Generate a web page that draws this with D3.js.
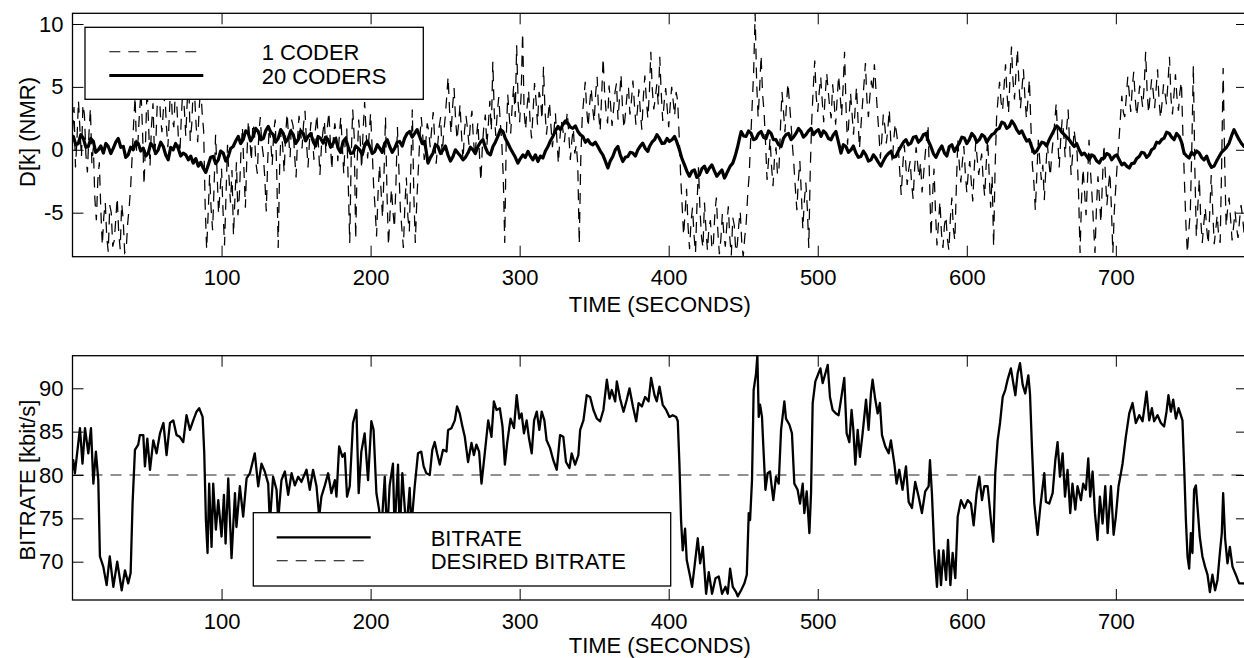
<!DOCTYPE html>
<html>
<head>
<meta charset="utf-8">
<script src="https://cdn.jsdelivr.net/npm/d3@7"></script>
<style>
  body { margin: 0; background: #fff; }
  svg { display: block; font-family: "Liberation Sans", Arial, Helvetica, sans-serif; }
</style>
</head>
<body>
<svg id="chart"></svg>
<script>
// ---- data ----
const timeTicks = [100, 200, 300, 400, 500, 600, 700]
const dTicks = [-5, 0, 5, 10]
const rateTicks = [70, 75, 80, 85, 90]
const timeRange = [0, 788]
const dRange = [-8.5, 10.85]
const rateRange = [65.58, 93.76]
const desiredBitrate = 80

// D[k] for a single coder, one value per second starting at t = 0 (20 values a row)
const coder1Step = 1
const coder1 = [
  1.5, 3.4, -1.4, 0.8, 3.9, 1.6, -0.6, 3.6, 2.8, -0.4, -1.8, 1.2, 3.3, -1.1, 0.2, -3.9, -5.6, -2.4, -1.0, -4.8,
  -7.6, -5.3, -4.2, -7.0, -8.1, -4.4, -5.0, -7.7, -7.2, -5.6, -3.8, -6.6, -7.9, -4.3, -5.5, -8.2, -8.0, -5.9, -4.6, -3.0,
  -0.6, 2.1, 4.2, -0.2, 0.8, 3.1, 4.6, 1.5, -2.8, 0.6, 4.9, 2.2, -1.3, 1.9, 3.7, -0.4, 0.9, 4.1, 5.3, 2.7,
  1.4, 3.2, 4.4, 1.9, 0.2, 2.8, 5.6, 2.4, 1.8, 4.7, 3.6, 1.0, -0.5, 2.6, 4.8, 3.3, 1.1, 3.9, 5.4, 0.7,
  2.0, 4.9, 4.2, 1.8, 0.6, 3.3, 5.0, 2.9, 1.5, -4.4, -7.9, -5.1, -2.0, -4.7, -6.4, -2.9, 1.2, -1.8, -5.1, -3.3,
  -1.5, -4.9, -7.6, -3.6, 0.4, -2.2, -4.2, -1.6, -6.8, -3.8, -1.0, -5.2, -3.5, -0.2, 1.8, -1.5, -4.6, -0.5, 2.3, 0.8,
  -0.9, 2.1, 1.5, -1.0, -1.9, 1.2, 2.6, 0.5, -0.4, -2.2, -4.9, -0.8, 1.9, 0.7, -1.2, 1.4, 2.4, -1.6, -7.8, -1.3,
  1.6, 0.3, -1.8, 1.2, 2.9, 1.0, -0.6, 2.4, 1.9, -0.4, -2.2, 0.9, 2.7, 1.5, 0.1, 2.0, 3.1, 0.6, -1.4, 0.7,
  2.2, 1.0, -0.8, 1.6, 2.8, 0.4, -2.0, 0.2, 1.4, 2.3, -0.3, 1.8, 3.0, 0.6, -1.6, 0.9, 2.1, 1.2, -0.9, 1.1,
  2.6, 0.4, -1.9, 0.8, 1.7, -2.6, -7.4, -0.5, 3.2, 1.1, -7.1, -1.0, 2.4, 0.9, -1.5, 1.6, 3.8, 1.4, -0.7, 1.2,
  2.9, 0.2, -2.8, -4.6, -6.9, -3.5, -1.2, -3.2, -5.4, -1.9, 2.6, -3.4, -7.6, -5.1, -3.1, -4.9, -6.2, -2.7, 1.8, -1.6,
  -4.8, -6.3, -7.8, -4.4, -2.2, -5.3, -6.5, -1.4, 3.2, -3.6, -7.4, -4.1, -1.6, 0.9, 2.6, 1.1, -0.8, 0.6, 2.1, 1.5,
  0.2, 1.7, 3.0, 0.9, -1.1, 0.4, 1.8, 2.6, -0.4, 1.3, 2.5, 4.1, 5.8, 3.1, 1.3, 3.4, 4.9, 2.5, 0.8, 2.0,
  3.6, 1.2, -0.9, 1.5, 2.7, 1.7, 0.4, 2.2, 3.1, 0.8, -0.6, 1.0, 2.2, -0.3, -2.5, 0.3, 1.9, 2.8, 0.3, 2.0,
  3.9, 1.5, 7.0, 2.8, 1.1, 3.0, 4.2, 2.2, 0.6, -2.1, -7.4, 0.9, 4.4, 2.7, 1.3, 3.5, 5.1, 2.6, 8.3, 3.7,
  2.2, 4.4, 9.3, 3.1, 1.6, 3.4, 4.7, 2.3, 0.9, 3.0, 5.3, 3.9, 2.0, 4.6, 4.1, 2.4, 6.6, 3.2, 1.2, 2.5,
  3.8, 1.9, 0.2, 1.5, 2.9, 0.8, -1.1, 0.9, 2.3, 1.6, 0.6, 1.9, 3.0, 1.2, -0.8, 0.7, 1.7, -0.3, 0.4, -1.2,
  -7.5, -0.8, 2.6, 4.0, 5.4, 3.2, 1.8, 3.7, 4.9, 3.3, 2.2, 4.5, 5.8, 2.9, 1.5, 4.2, 7.3, 4.6, 3.0, 2.1,
  5.1, 3.6, 1.9, 3.2, 4.6, 5.3, 2.4, 4.1, 6.0, 3.4, 1.7, 2.9, 4.3, 5.0, 2.8, 3.9, 5.5, 3.6, 2.0, 3.1,
  4.8, 3.0, 1.6, 4.2, 5.9, 4.0, 2.5, 4.4, 7.8, 4.8, 3.2, 4.1, 5.2, 3.6, 7.4, 4.5, 2.3, 3.8, 4.9, 3.3,
  1.8, 3.5, 5.0, 3.9, 2.7, 4.6, 3.9, 1.2, -2.0, -4.4, -6.8, -5.0, -3.1, -6.1, -7.9, -5.7, -4.6, -6.8, -8.2, -4.3,
  -1.4, -4.8, -6.9, -7.8, -4.2, -6.3, -8.0, -6.2, -5.6, -7.9, -7.4, -5.0, -3.8, -6.5, -8.3, -7.1, -5.1, -6.7, -7.7, -6.0,
  -4.5, -7.0, -8.4, -5.4, -6.0, -8.1, -7.6, -6.0, -4.9, -7.3, -8.5, -7.0, -5.8, -3.6, -2.0, 0.8, 3.5, 6.2, 10.85, 5.4,
  2.6, 4.8, 7.5, 4.4, 3.0, 0.5, -2.4, -0.8, 0.9, -1.3, -2.9, -0.6, 0.2, -2.0, -1.5, 1.8, 4.6, 3.1, 1.4, 3.6,
  5.3, 3.8, 2.2, 0.4, -1.2, -3.1, -4.8, -2.4, -0.9, -3.5, -6.3, -4.1, -2.6, -4.6, -7.8, -1.5, 2.4, 4.9, 7.1, 4.2,
  3.0, 4.6, 5.8, 3.9, 2.2, 4.3, 6.1, 4.7, 3.4, 2.5, 5.2, 3.8, 2.0, 4.0, 5.9, 4.4, 2.7, 4.9, 7.8, 3.3,
  0.4, 2.6, 4.5, 2.9, 1.2, 3.1, 5.0, 2.4, 0.1, 1.9, 3.6, 5.2, 6.9, 4.0, 2.6, 4.3, 5.5, 4.6, 6.8, 4.9,
  3.1, 1.4, -0.7, 0.9, 2.8, 1.9, 0.5, 1.6, 3.2, 0.7, -1.0, 0.8, 2.1, 1.2, 0.3, -1.7, -3.6, -1.4, 0.4, -1.0,
  -2.8, -1.6, -0.9, -2.7, -3.9, -1.5, 0.2, -1.1, -2.2, -1.0, -3.4, -2.0, -0.5, 0.9, 2.0, -2.3, -6.9, -3.8, -1.5, -4.9,
  -7.6, -5.8, -4.1, -6.6, -7.8, -6.0, -5.3, -7.1, -8.0, -5.4, -3.8, -6.3, -7.2, -2.9, 0.8, -1.2, -2.6, -1.0, 0.3, -1.8,
  -3.4, -1.8, -0.9, -2.5, -4.1, -1.5, 0.6, -0.7, -2.0, -1.1, -0.3, -2.4, -3.7, -1.2, 0.9, -1.9, -4.6, -2.1, -7.7, -1.4,
  2.6, 4.1, 5.4, 3.8, 3.1, 5.0, 6.8, 4.4, 2.9, 5.7, 8.2, 5.5, 4.0, 6.1, 8.0, 5.2, 3.3, 4.8, 6.4, 4.2,
  2.5, 3.9, 5.6, 2.0, -1.2, -2.6, -4.8, -1.9, 0.8, -0.9, -2.4, -1.2, -4.0, -1.6, 0.5, -0.8, -2.1, -0.4, 0.9, 2.2,
  3.7, 1.0, -1.4, 0.8, 2.4, 1.3, -0.6, 1.7, 3.2, 0.4, -2.0, -0.4, 1.6, 0.6, -0.2, -3.5, -8.2, -3.9, -1.5, -3.3,
  -5.2, -2.4, 0.8, -1.7, -3.6, -5.9, -8.2, -4.6, -2.1, -3.9, -5.8, -2.5, 0.4, -2.0, -4.4, -3.0, -1.8, -4.5, -8.2, -4.8,
  -2.9, -1.0, 0.6, 2.4, 4.3, 3.0, 2.6, 4.2, 5.8, 4.5, 3.0, 4.9, 6.2, 4.1, 2.7, 3.8, 5.1, 4.4, 3.4, 5.0,
  7.8, 4.6, 2.9, 4.3, 5.6, 4.7, 3.3, 4.8, 6.4, 3.9, 2.5, 3.7, 5.2, 4.5, 3.6, 5.4, 7.4, 4.1, 2.8, 4.4,
  6.0, 4.2, 3.1, 4.6, 5.4, 1.2, -2.4, -5.9, -8.2, -6.4, -4.8, 0.3, 6.7, -1.4, -6.9, -4.5, -2.3, -5.6, -7.4, -5.9,
  -4.6, -6.3, -7.5, -5.0, -2.0, -4.8, -7.5, -6.4, -5.2, -6.9, -7.4, -1.2, 6.5, -0.8, -6.1, -4.7, -3.8, -5.5, -7.2, -6.1,
  -4.9, -6.2, -7.0, -5.6, -4.4, -5.3, -6.6, -5.8
]

// D[k] averaged over 20 coders: [time, value]
const coders20 = [
  [0,0.9],[0.6,1.06],[2.2,0.4],[3.9,0.5],[5.6,1.2],[7.3,0.9],[9,0.2],[10.6,0.26],[12.3,0.9],[14,0.66],
  [15.6,-0.2],[17.3,0],[19,0.3],[20.7,-0.26],[22.4,0.5],[24,0.26],[25.7,-0.3],[27.4,0.13],[29,0.6],[30.7,0.9],
  [32.4,0.2],[34.1,0.26],[35.7,-0.6],[37.4,-0.4],[39,0.2],[40.8,0],[42.4,0.6],[44.1,0.5],[45.8,-0.1],[47.5,0.13],
  [49.2,-0.5],[50.8,-0.26],[52.5,0.5],[54.2,0.26],[55.8,-0.3],[57.5,0],[59.2,0.6],[60.9,0.26],[62.5,-0.4],[64.2,-0.8],
  [65.9,0.2],[67.6,0],[69.2,0.5],[70.9,0.13],[72.6,-0.5],[74.3,-0.26],[76,-0.4],[77.7,-0.8],[79.3,-0.5],[81,-1.06],
  [82.7,-0.7],[84.4,-1.3],[86,-1.0],[87.7,-1.45],[89.4,-1.8],[91.1,-1.2],[92.7,-0.6],[94.4,-0.53],[96.1,-1.1],[97.8,-0.8],
  [99.4,-0.1],[101.1,-0.26],[102.8,-0.9],[104.5,-0.53],[106.1,0.1],[107.8,0.26],[109.5,0.7],[111.2,1.06],[112.8,0.5],[114.5,0.8],
  [116.2,1.5],[117.9,1.3],[119.5,0.7],[121.2,1.06],[122.9,1.7],[124.6,1.45],[126.3,0.8],[128,0.9],[129.6,1.5],[131.3,1.85],
  [133,1.4],[134.7,1.2],[136.3,0.6],[138,0.9],[139.7,1.6],[141.4,1.3],[143,0.6],[144.7,0.9],[146.4,1.5],[148.1,1.2],
  [149.7,0.5],[151.4,0.8],[153.1,1.5],[154.8,1.3],[156.4,0.7],[158.1,1.06],[159.8,1.3],[161.5,0.66],[163.1,0.3],[164.8,1.06],
  [166.5,0.9],[168.2,0.53],[169.8,1.0],[171.5,0.8],[173.2,0.2],[174.9,0.53],[176.5,0.9],[178.2,0.13],[179.9,-0.2],[181.6,0.66],
  [183.2,0.9],[184.9,0.26],[186.6,-0.3],[188.3,-0.26],[190,0.3],[191.6,0.13],[192.7,0],[194.4,-0.4],[196.1,0.4],[197.8,0.7],
  [199.4,0.26],[201.1,-0.3],[202.8,-0.13],[204.5,0.4],[206.1,0.13],[207.8,-0.2],[209.5,0.53],[211.2,0.8],[212.8,0.26],[214.5,-0.2],
  [216.2,0.13],[217.8,0.6],[219.5,0.66],[221.2,0.3],[222.9,0.93],[224.5,1.3],[226.2,1.45],[227.9,1.0],[229.6,1.3],[231.2,1.6],
  [232.9,1.06],[234.6,0.5],[236.3,0.66],[237.4,-0.2],[238.5,-1.06],[240.2,-0.6],[241.9,-0.26],[243.5,0.4],[245.2,0.26],[246.9,-0.3],
  [248.6,0],[250.2,0.3],[251.9,-0.4],[253.6,-0.9],[255.3,-0.53],[256.9,0],[258.6,-0.26],[260.3,-0.5],[262,-0.8],[263.6,-0.6],
  [265.3,-0.26],[267,0.2],[268.7,0],[270.3,-0.3],[272,0.26],[273.7,0.6],[275.4,0.8],[277,0.2],[278.7,-0.26],[280.4,-0.4],
  [282.1,0.26],[283.7,0.6],[285.4,1.06],[287.1,1.6],[288.8,1.45],[290.4,0.9],[292.1,0.53],[293.8,0.1],[295.5,-0.26],[297.1,-0.6],
  [298.8,-1.06],[300.5,-0.7],[302.2,-0.4],[303.8,-0.6],[305.6,-0.13],[307.2,-0.5],[308.9,-0.8],[310.6,-0.4],[312.3,-0.93],[313.9,-0.5],
  [315.6,-0.66],[317.3,-0.1],[319,0.26],[320.6,0.7],[322.3,1.06],[324,1.5],[325.7,1.85],[327.3,1.6],[329,2.0],[330.7,2.3],
  [332.4,2.1],[334,1.8],[335.7,1.7],[337.4,1.9],[339.1,1.45],[340.7,1.2],[342.4,1.06],[344.1,0.6],[345.8,0.8],[347.4,0.5],
  [349.1,0.4],[350.8,0.6],[352.5,0.26],[354.1,-0.1],[355.8,-0.4],[357.5,-0.9],[359.2,-1.45],[360.8,-0.9],[362.5,-0.53],[364.2,0],
  [365.9,0.26],[367.5,-0.4],[369.2,-0.93],[370.9,-0.6],[372.6,-0.53],[374.2,-0.2],[375.9,-0.26],[377.6,-0.5],[379.3,0],[381,0.3],
  [382.6,0.53],[384.3,0.1],[386,-0.13],[387.1,0.26],[388.8,0.6],[390.5,0.8],[392.1,1.2],[393.8,0.9],[395.5,0.5],[397.2,0.53],
  [398.9,0.9],[400.5,0.66],[402.2,0.8],[403.9,1.06],[405.5,0.6],[407.2,0],[408.9,-0.7],[410.6,-1.2],[412.2,-1.7],[413.9,-2.1],
  [415.6,-1.7],[417.3,-1.6],[418.9,-2.2],[420.6,-2.0],[422.3,-1.5],[424,-1.3],[425.6,-1.8],[427.3,-1.45],[429,-1.2],[430.7,-1.7],
  [432.3,-2.1],[434,-1.85],[435.7,-1.6],[437.4,-2.25],[438.5,-2.0],[439.6,-1.7],[441.3,-1.3],[443,-1.06],[444.6,-0.5],[446.3,0.26],
  [447.5,0.9],[448.6,1.45],[450.3,1.1],[451.9,1.06],[453.6,1.5],[455.3,1.3],[456.9,0.8],[458.6,0.9],[460.3,1.3],[462,1.45],
  [463.6,1.0],[465.3,0.9],[467,1.5],[468.7,1.3],[470.3,0.8],[472,0.8],[473.7,0.4],[475.4,0.26],[477,0.9],[478.7,1.2],
  [480.4,1.3],[482.1,0.8],[483.7,1.0],[485.4,1.3],[487.1,1.7],[488.8,1.45],[490.4,1.0],[492.1,1.2],[493.8,1.5],[495.5,1.7],
  [497.1,1.2],[498.8,1.45],[500.5,1.6],[502.2,1.06],[503.8,1.5],[505.5,1.3],[507.2,0.9],[508.9,0.8],[510.5,1.2],[512.2,1.45],
  [513.9,0.6],[515.6,-0.26],[517.2,0.4],[518.9,0.26],[520.6,-0.2],[522.3,0],[523.9,0.3],[525.6,-0.26],[527.3,-0.6],[529,-0.53],
  [530.6,-0.1],[532.3,-0.4],[534,-0.9],[535.7,-0.8],[537.3,-0.4],[539,-0.66],[540.7,-1.0],[542.4,-1.3],[544,-0.9],[545.7,-0.53],
  [547.4,-0.3],[549.1,-0.13],[550.7,-0.6],[552.4,-0.53],[554.1,-0.1],[555.8,0.26],[557.5,0.6],[559.2,0.8],[560.8,0.4],[562.5,0.53],
  [564.2,1.0],[565.9,1.06],[567.5,0.6],[569.2,0.8],[570.9,1.2],[572.6,1.3],[574.2,0.7],[575.9,0.26],[577.6,-0.3],[579.3,-0.6],
  [581.6,0],[583.3,0.3],[585,-0.26],[586.6,-0.5],[588.3,0.26],[590,0.4],[591.7,-0.13],[593.3,0.2],[595,0.53],[596.7,1.0],
  [598.4,0.93],[600,0.5],[601.7,0.8],[603.4,1.3],[605.1,1.06],[606.7,0.6],[608.4,0.8],[610.1,1.2],[611.8,1.06],[613.4,0.6],
  [615.1,0.93],[616.8,1.2],[618.5,1.3],[620.1,1.6],[621.8,1.7],[623.5,2.2],[625.2,2.1],[626.8,1.7],[628.5,1.85],[630.2,2.3],
  [631.9,2.0],[633.5,1.6],[635.2,1.3],[636.9,1.5],[638.6,1.06],[640.2,0.7],[641.9,0.8],[643.6,0.2],[645.3,-0.26],[646.9,-0.1],
  [648.6,0.26],[650.3,0.6],[652,0.53],[653.6,0.3],[655.3,0.8],[657,1.2],[658.7,1.6],[660.3,1.9],[662,1.7],[663.7,1.4],
  [665.4,1.2],[667,1.0],[668.7,0.8],[670.4,0.5],[672.1,0.26],[673.7,0.5],[675.4,0],[677.1,-0.4],[678.8,-0.26],[680.4,-0.5],
  [682.1,-0.8],[683.8,-0.4],[685.5,-0.53],[687.2,-0.9],[688.9,-1.06],[690.5,-0.7],[692.2,-0.66],[693.9,-0.3],[695.6,-0.4],[697.2,-0.8],
  [698.9,-0.53],[700.6,-0.4],[702.3,-0.8],[704,-1.2],[705.6,-1.06],[707.3,-1.3],[709,-1.45],[710.6,-1.1],[712.3,-1.06],[714,-0.7],
  [715.7,-0.53],[717.3,-0.2],[719,-0.26],[720.7,-0.6],[722.4,-0.4],[724,0],[725.7,0.13],[727.4,0.6],[729.1,0.53],[730.7,0.8],
  [732.4,0.93],[734.1,1.4],[735.8,1.3],[737.4,1.0],[739.1,0.8],[740.8,1.3],[742.5,1.06],[744.1,0.6],[745.8,-0.26],[747.5,-0.5],
  [749.2,-0.66],[750.8,-0.2],[752.5,-0.4],[754.2,-0.1],[755.9,-0.26],[757.5,-0.6],[759.2,-0.8],[760.9,-0.5],[762.6,-1.06],[764.2,-1.4],
  [765.9,-1.3],[767.6,-0.9],[769.3,-0.53],[770.9,-0.2],[772.6,0],[774.3,0.2],[776,0.53],[777.6,1.1],[779.3,1.6],[781,1.2],
  [782.7,0.8],[784.3,0.5],[786,0.26],[788,0.4]
]

// bitrate in kbit/s: [time, value]
const bitrate = [
  [0,80.6],[0.5,81.7],[1.6,80.2],[5,85.4],[6.7,81.3],[8.4,85.4],[10.6,82.5],[12.4,85.4],[14,79],[15.7,82.7],
  [17.3,79.4],[18.4,70.6],[20.7,69.4],[22.9,67.3],[25,70.6],[27.4,67.1],[30,70],[33,66.7],[35.2,69],[37.4,67.5],
  [39,68.7],[40.3,76.7],[41.9,82.9],[44.1,83.5],[45.2,84.6],[47.5,84.6],[48.6,81],[50.2,84.2],[52,80.6],[54.2,84],
  [56.4,82.5],[58.7,84.8],[61,86],[63.1,82.3],[65.4,86],[67.6,86.3],[69.8,84.6],[72,84.4],[74.3,83.8],[76.5,86.9],
  [78.8,85.2],[81,86.3],[83.2,87.3],[85,87.7],[87.3,86.7],[88.4,82.5],[89.5,74.8],[90.6,71],[91.7,79],[93.3,71.7],
  [94.4,79],[96.2,73.7],[97.8,77.1],[100,72.9],[101.6,77.7],[102.7,72.1],[104.5,79.6],[106.7,70.4],[109,77.9],[110,74],
  [112.3,78.7],[114.5,75.2],[116.8,79.6],[119,80.2],[122.3,82.5],[124.6,78.7],[126.8,81.3],[129,80.4],[131.3,79],[132.4,74.5],
  [134.6,79.8],[136.9,78.3],[138,74.8],[140.2,79.4],[142.5,80.4],[144.7,77.7],[147,80.2],[149.2,78.8],[151.4,79.8],[153.6,79.2],
  [157,80.6],[159.2,78.3],[161.4,80.6],[163.7,78.7],[165.5,75.2],[167,77.5],[169.3,78.8],[171.5,80.2],[173.7,77.9],[176,79.4],
  [177.1,77.5],[178.9,83.3],[181.1,82.1],[182.7,82.5],[184.2,77.5],[186,78.7],[188.2,86],[190.5,87.5],[192,77.9],[193.8,82.7],
  [196,84.8],[198.3,79.4],[200.5,86.2],[202,85.2],[203.9,77.9],[205.7,76],[207.2,73.5],[209.5,79.8],[211,73],[212.8,78.8],
  [215,81.3],[216.1,73.5],[218.4,81.2],[219.5,73],[221.3,80.2],[224,73.5],[226.2,78.5],[227.3,74],[229.6,78.7],[231.8,82.5],
  [234,82.7],[235.6,81],[237.4,80.2],[239.7,80],[241.4,82.9],[243,83.8],[244.6,82.5],[246.4,81.2],[248.6,82.9],[250.9,82.7],
  [252,85.2],[254.2,85.4],[256.5,86.3],[258,87.9],[259.8,87.1],[261.6,85.6],[263.2,84.4],[265.4,81.5],[267.7,83.7],[269.3,82.3],
  [271,83.5],[272.8,82.7],[274.4,79],[276.6,82.5],[278.9,86.3],[281.1,84.4],[282.7,88.5],[284.5,87.5],[286.7,87.7],[288.5,85.6],
  [290.1,81.2],[291.7,83.8],[293.9,86.5],[296.2,85.4],[298,89.2],[299.8,86.5],[301.3,87.1],[302.9,84.8],[304.7,86.3],[306.3,84.2],
  [308.1,82.5],[309.7,86.3],[311.5,87.3],[313.2,85.2],[314.8,87.3],[316.6,86.3],[318.1,84],[320.4,83.1],[322.6,81.7],[324.9,80.6],
  [327.1,84.6],[329.3,84.4],[331.1,81.5],[333.4,80.8],[334.9,82.5],[337.2,81.2],[339.4,82.3],[340.6,85.2],[342.8,86.3],[345,89.2],
  [347.3,89],[349.5,87.5],[351.8,86.5],[354,86.2],[356.2,87.5],[358.5,91],[360.3,88.8],[361.8,89.8],[364.1,88.5],[365.2,90.8],
  [367.4,88.8],[369.7,87.3],[371.9,88.7],[373.7,90],[376,87.9],[378.2,86.2],[379.8,88.3],[382,87.9],[384.2,89],[386.5,88.5],
  [388.2,91.2],[390.5,89.2],[392,88.5],[393.8,90.2],[396,88.1],[398.3,87.5],[400.5,86.7],[402.7,86.9],[405,86.7],[406.1,86.2],
  [407.2,81.3],[408.3,74.8],[409.4,71.3],[411,73.8],[412.1,70.2],[413.9,68.7],[415.7,67.1],[417.3,69.4],[419.5,72.7],[421.1,69.8],
  [422.9,71.7],[425.1,66.3],[426.9,68.8],[429.1,66.3],[431.4,68.1],[433.6,68.3],[435.8,66.3],[438.1,67.1],[439.6,66.3],[441.2,69.2],
  [443,67.1],[445.2,66.5],[446.3,66],[448.6,66.7],[450.8,67.5],[452.4,68.5],[453.7,75.6],[454.6,74.8],[455.9,79.4],[457,89.8],
  [458.6,91.7],[459.5,93.76],[460.4,86.7],[461.3,88.1],[462.6,86.7],[463.5,83.3],[464.9,78.3],[466.4,80.2],[468,80.4],[469.1,78.7],
  [470.2,77.1],[472,79.8],[473.8,79],[475.4,85.2],[477.6,88.5],[478.7,86.5],[481,85.8],[482.7,84.8],[484.3,79],[486.5,78.3],
  [488.1,76.7],[489.9,79],[491,75.6],[492.6,78.1],[494.4,73.3],[495.5,77.9],[496.6,88.3],[498.4,90.8],[500,91.5],[501.8,92.3],
  [503.3,90.6],[505.1,91.7],[506.7,92.7],[508.2,89],[510,87.5],[512.2,87.1],[514,86.9],[515.6,88.7],[517.8,91.2],[519.4,84.8],
  [521.2,83.8],[522.7,87.5],[523.9,85.2],[525.2,81.2],[526.8,85.2],[528.3,82.1],[530.1,84.8],[532.4,88.7],[534.1,85.2],[535.7,89.4],
  [536.8,91],[538.6,88.7],[540.2,87.1],[541.7,88.3],[543.1,84.6],[545.3,83.3],[547.6,82.5],[549.1,84],[551.4,81.3],[552.9,79],
  [554.7,80.6],[556.9,78.3],[559.2,81],[561,76.9],[563.2,76.2],[565.4,79.2],[567.7,77.5],[569.9,75.6],[572.1,78.1],[574.4,78.7],
  [575.3,81.7],[576.6,77.9],[578.2,71.3],[580,67.1],[581.2,71.3],[582.7,67.3],[584.3,71.3],[586.1,67.9],[587.4,72.5],[589,67.3],
  [590.5,71],[592.3,68.1],[593.9,75.2],[596.1,77.1],[598.4,76.2],[600.6,77.1],[602.8,76.7],[604.6,74.2],[606.6,77.9],[608.4,79.8],
  [610.2,77.1],[611.8,78.7],[614,78.7],[616.2,74.8],[617.8,72.3],[619.1,80.2],[620.7,84],[622.3,86],[624.1,89],[625.8,89.8],
  [627.4,91],[629.6,92.3],[631.2,90.6],[632.6,89.2],[634.1,91.7],[635.7,92.9],[637.5,90.4],[639.2,89.4],[641.3,91.5],[642.4,89.4],
  [643.7,83.3],[645.3,76.7],[647.5,73.1],[649.3,76.3],[652,80.2],[653.1,76.9],[655.3,76.7],[657.6,77.9],[659.4,81.7],[660.9,83.8],
  [662.5,79.8],[664.3,82.5],[665.9,77.5],[667.6,80.6],[669.4,75.6],[670.9,79],[672.8,76],[674.3,78.7],[676.6,77.1],[678.1,79],
  [679.9,78.3],[681.5,81.9],[682.8,77.5],[684.4,80.4],[686,75.6],[687.7,72.5],[689.3,77.5],[691.1,74.4],[692.9,78.7],[694.5,73.3],
  [696.7,78.7],[698.5,73.1],[700,75.2],[701.8,78.7],[703.4,80.2],[704.5,81.3],[706.7,84.4],[709,87.1],[711.2,88.3],[713.4,86],
  [715.7,86.9],[717.9,86.2],[719,87.5],[720.6,89.6],[722.4,86.3],[724.2,87.7],[725.7,86.2],[728,86.9],[730.2,86],[732.4,85.6],
  [734,87.3],[735.3,89.2],[736.9,87.3],[738.5,88.7],[740.3,86.5],[742.1,87.7],[743.6,86.9],[744.7,86.3],[745.9,80.6],[747,74.8],
  [748.1,70.6],[749.2,69.2],[750.3,73.3],[751.4,71],[752.5,78.3],[753.7,78.8],[754.8,76.3],[756.3,72.9],[758.1,70.6],[759.9,69.4],
  [761.5,68.5],[763.1,66.5],[764.8,68.5],[766.6,66.7],[768.2,67.9],[769.8,71],[771.1,73.3],[772,77.9],[773.3,72.7],[774.9,69.8],
  [776.5,71.7],[778.3,69.4],[780.5,68.5],[782.7,67.5],[785.4,67.5],[788,67.4]
]

// ---- layout ----
const WIDTH = 1244
const HEIGHT = 658
const LEFT = 72.5
const RIGHT = 1247      // right frame sits just outside the picture, as in the reference
const TICK = 11
const FONT = 22
const DASH = '11,8'

const svg = d3.select('#chart')
    .attr('width', WIDTH)
    .attr('height', HEIGHT)
    .attr('viewBox', `0 0 ${WIDTH} ${HEIGHT}`)

function makePanel(id, top, bottom, yDomain) {
    const x = d3.scaleLinear().domain(timeRange).range([LEFT, RIGHT])
    const y = d3.scaleLinear().domain(yDomain).range([bottom, top])
    const g = svg.append('g')
    g.append('clipPath').attr('id', id)
        .append('rect')
        .attr('x', LEFT).attr('y', top)
        .attr('width', RIGHT - LEFT).attr('height', bottom - top)
    const plot = g.append('g').attr('clip-path', `url(#${id})`)
    return { x, y, g, plot, top, bottom }
}

function styleAxis(sel) {
    sel.attr('font-size', FONT).attr('font-family', null)
    sel.select('.domain').remove()
    sel.selectAll('.tick line').attr('stroke', '#000').attr('stroke-width', 1)
    sel.selectAll('.tick text').attr('fill', '#000')
}

function drawAxes(p, yTicks) {
    const fmt = d => String(d)
    p.g.append('g')
        .attr('transform', `translate(0,${p.bottom})`)
        .call(d3.axisBottom(p.x).tickValues(timeTicks).tickSize(-TICK).tickPadding(13).tickFormat(fmt))
        .call(styleAxis)
    p.g.append('g')
        .attr('transform', `translate(0,${p.top})`)
        .call(d3.axisTop(p.x).tickValues(timeTicks).tickSize(-TICK).tickFormat(''))
        .call(styleAxis)
    p.g.append('g')
        .attr('transform', `translate(${LEFT},0)`)
        .call(d3.axisLeft(p.y).tickValues(yTicks).tickSize(-TICK).tickPadding(9).tickFormat(fmt))
        .call(styleAxis)
    p.g.append('g')
        .attr('transform', `translate(${RIGHT},0)`)
        .call(d3.axisRight(p.y).tickValues(yTicks).tickSize(-TICK).tickFormat(''))
        .call(styleAxis)
    p.g.append('rect')
        .attr('x', LEFT).attr('y', p.top)
        .attr('width', RIGHT - LEFT).attr('height', p.bottom - p.top)
        .attr('fill', 'none').attr('stroke', '#000').attr('stroke-width', 1.3)
}

function label(text, x, y, rotate) {
    svg.append('text')
        .attr('transform', `translate(${x},${y})${rotate ? ' rotate(-90)' : ''}`)
        .attr('text-anchor', 'middle')
        .attr('font-size', FONT)
        .text(text)
}

function legend(box, items) {
    const g = svg.append('g')
    g.append('rect')
        .attr('x', box.x).attr('y', box.y)
        .attr('width', box.w).attr('height', box.h)
        .attr('fill', '#fff').attr('stroke', '#000').attr('stroke-width', 1.3)
    items.forEach(it => {
        g.append('line')
            .attr('x1', box.lineX[0]).attr('x2', box.lineX[1])
            .attr('y1', it.y).attr('y2', it.y)
            .attr('stroke', '#000').attr('stroke-width', it.width)
            .attr('stroke-dasharray', it.dash || null)
        g.append('text')
            .attr('x', box.textX).attr('y', it.y + 8.3)
            .attr('font-size', FONT)
            .text(it.text)
    })
}

// ---- top panel: D[k] ----
const dPanel = makePanel('clip-top', 13.3, 256.7, dRange)

dPanel.plot.append('path')
    .datum(coder1)
    .attr('fill', 'none')
    .attr('stroke', '#000')
    .attr('stroke-width', 1.25)
    .attr('stroke-dasharray', DASH)
    .attr('d', d3.line().x((d, i) => dPanel.x(i * coder1Step)).y(d => dPanel.y(d)))

dPanel.plot.append('path')
    .datum(coders20)
    .attr('fill', 'none')
    .attr('stroke', '#000')
    .attr('stroke-width', 3.2)
    .attr('stroke-linejoin', 'round')
    .attr('d', d3.line().x(d => dPanel.x(d[0])).y(d => dPanel.y(d[1])))

legend({ x: 85, y: 27.3, w: 338.3, h: 72, lineX: [109.3, 203.3], textX: 261.7 }, [
    { y: 51.7, width: 1.1, dash: DASH, text: '1 CODER' },
    { y: 75.5, width: 3, text: '20 CODERS' },
])

drawAxes(dPanel, dTicks)
label('TIME (SECONDS)', (LEFT + RIGHT) / 2, 312.3)
label('D[k] (NMR)', 35, 132, true)

// ---- bottom panel: bitrate ----
const ratePanel = makePanel('clip-bottom', 355.7, 600, rateRange)

ratePanel.plot.append('line')
    .attr('x1', LEFT).attr('x2', RIGHT)
    .attr('y1', ratePanel.y(desiredBitrate)).attr('y2', ratePanel.y(desiredBitrate))
    .attr('stroke', '#222').attr('stroke-width', 1.1)
    .attr('stroke-dasharray', DASH)

ratePanel.plot.append('path')
    .datum(bitrate)
    .attr('fill', 'none')
    .attr('stroke', '#000')
    .attr('stroke-width', 2.3)
    .attr('stroke-linejoin', 'round')
    .attr('d', d3.line().x(d => ratePanel.x(d[0])).y(d => ratePanel.y(d[1])))

legend({ x: 253.3, y: 512.7, w: 417.4, h: 73.3, lineX: [276.7, 370.7], textX: 430.7 }, [
    { y: 537.3, width: 2.3, text: 'BITRATE' },
    { y: 560.7, width: 1.1, dash: DASH, text: 'DESIRED BITRATE' },
])

drawAxes(ratePanel, rateTicks)
label('TIME (SECONDS)', (LEFT + RIGHT) / 2, 652.5)
label('BITRATE [kbit/s]', 35, 480, true)
</script>
</body>
</html>
